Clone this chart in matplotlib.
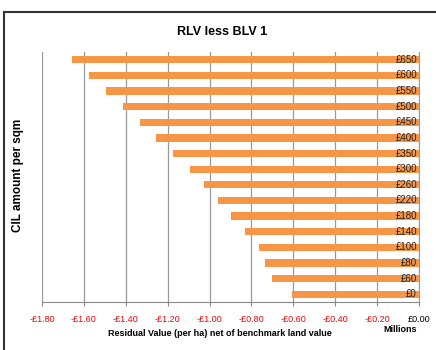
import matplotlib
matplotlib.use("Agg")
import matplotlib.pyplot as plt
from matplotlib.patches import Rectangle

plt.rcParams['font.family'] = ['Liberation Sans', 'DejaVu Sans']

cil = ['£0', '£60', '£80', '£100', '£140', '£180', '£220', '£260',
       '£300', '£350', '£400', '£450', '£500', '£550', '£600', '£650']
residual = [-0.606, -0.702, -0.735, -0.764, -0.831, -0.898, -0.960, -1.027,
            -1.094, -1.175, -1.256, -1.332, -1.413, -1.495, -1.576, -1.657]
xticks = [-1.8, -1.6, -1.4, -1.2, -1.0, -0.8, -0.6, -0.4, -0.2, 0.0]

W, H = 436, 350
fig = plt.figure(figsize=(W / 100, H / 100), dpi=100)
fig.patches.append(Rectangle((4 / W, -0.1), 1.1, 1 - 12 / H + 0.1, transform=fig.transFigure,
                             fill=False, edgecolor='#333333', linewidth=1.5))

ax = fig.add_axes([42 / W, 1 - 302 / H, 377 / W, 250 / H])
y = list(range(len(cil)))
ax.barh(y, residual, height=0.46, color='#F79646', zorder=2)
for yi, lab in zip(y, cil):
    ax.text(-0.01, yi, lab, ha='right', va='center', fontsize=7, color='#222222', zorder=3)

ax.set_xlim(-1.8, 0.0)
ax.set_ylim(-0.5, len(cil) - 0.5)
ax.set_xticks(xticks)
labels = ['-£%.2f' % abs(v) if v < 0 else '£%.2f' % v for v in xticks]
ax.set_xticklabels(labels, fontsize=6.5)
for t, v in zip(ax.get_xticklabels(), xticks):
    t.set_color('red' if v < 0 else 'black')
ax.set_yticks([])
ax.grid(axis='x', color='#999999', linewidth=0.9, zorder=0)
for s in ['top', 'left']:
    ax.spines[s].set_visible(False)
ax.spines['right'].set_color('#999999')
ax.spines['bottom'].set_color('#888888')
ax.tick_params(axis='x', length=3, color='#888888', pad=6)

fig.text(222 / W, 1 - 32 / H, 'RLV less BLV 1', ha='center', va='center', fontsize=9, fontweight='bold')
fig.text(18 / W, 1 - 175 / H, 'CIL amount per sqm', rotation=90, ha='center', va='center',
         fontsize=8.5, fontweight='bold')
fig.text(220 / W, 1 - 334 / H, 'Residual Value (per ha) net of benchmark land value', ha='center',
         va='center', fontsize=6.5, fontweight='bold')
fig.text(400 / W, 1 - 330 / H, 'Millions', ha='center', va='center', fontsize=6.5, fontweight='bold')

fig.savefig('out.png', dpi=100)
